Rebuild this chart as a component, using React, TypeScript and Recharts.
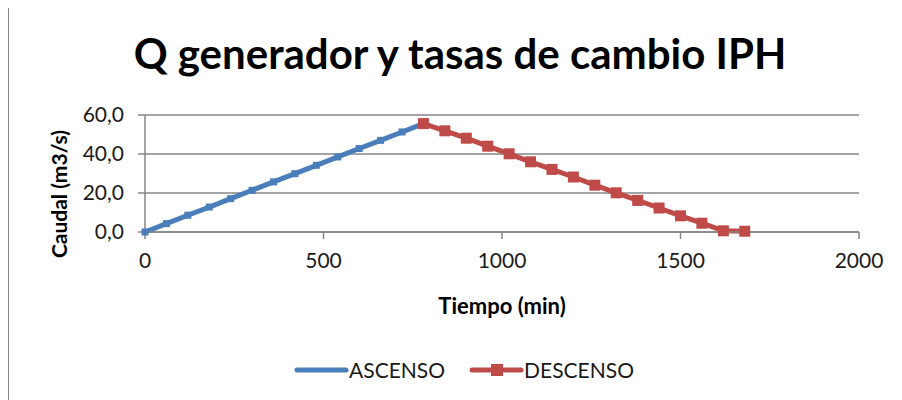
import { LineChart, Line, XAxis, YAxis, CartesianGrid } from "recharts"

// time (min) and flow (m3/s)
const ascTime = [0, 60, 120, 180, 240, 300, 360, 420, 480, 540, 600, 660, 720, 780]
const ascFlow = [0, 4.3, 8.6, 12.8, 17.1, 21.4, 25.7, 29.9, 34.2, 38.5, 42.8, 47.0, 51.3, 55.6]

const descTime = [780, 840, 900, 960, 1020, 1080, 1140, 1200, 1260, 1320, 1380, 1440, 1500, 1560, 1620, 1680]
const descFlow = [55.6, 51.9, 48.1, 44.0, 40.1, 36.0, 32.1, 28.2, 24.0, 20.1, 16.2, 12.3, 8.3, 4.5, 0.6, 0.4]

const xTicks = [0, 500, 1000, 1500, 2000]
const yTicks = [0, 20, 40, 60]

const BLUE = "#4A7EBB"
const RED = "#BE4B48"
const FONT = "Lato, 'Open Sans', sans-serif"

const ascData = ascTime.map((t, i) => ({ t, q: ascFlow[i] }))
const descData = descTime.map((t, i) => ({ t, q: descFlow[i] }))

const fmt = (v: number) => v.toFixed(1).replace(".", ",")

function SquareDot(size: number, color: string) {
  return (props: any) => {
    const { cx, cy, index } = props
    if (cx == null || cy == null) return <g key={index} />
    return (
      <rect
        key={index}
        x={cx - size / 2}
        y={cy - size / 2}
        width={size}
        height={size}
        fill={color}
        stroke="none"
      />
    )
  }
}

function LegendRow() {
  const item = (label: string, color: string, marker: boolean) => (
    <div style={{ display: "flex", alignItems: "center" }}>
      <svg width={55} height={14}>
        <line x1={3} y1={7} x2={52} y2={7} stroke={color} strokeWidth={5} strokeLinecap="round" />
        {marker && <rect x={22} y={1} width={12} height={12} fill={color} />}
      </svg>
      <span style={{ fontSize: 21, color: "#1a1a1a" }}>{label}</span>
    </div>
  )
  return (
    <div
      style={{
        position: "absolute",
        top: 349,
        left: 0,
        width: 894,
        display: "flex",
        justifyContent: "center",
        gap: 24,
        paddingLeft: 16,
        boxSizing: "border-box",
      }}
    >
      {item("ASCENSO", BLUE, false)}
      {item("DESCENSO", RED, true)}
    </div>
  )
}

export default function App() {
  return (
    <div
      style={{
        position: "relative",
        width: 894,
        height: 400,
        borderLeft: "1.5px solid #8a8a8a",
        boxSizing: "border-box",
        fontFamily: FONT,
        background: "#fff",
      }}
    >
      <div
        style={{
          position: "absolute",
          top: 20,
          left: 0,
          width: 894,
          textAlign: "center",
          fontSize: 42,
          fontWeight: 700,
          color: "#000",
          paddingLeft: 8,
          boxSizing: "border-box",
        }}
      >
        Q generador y tasas de cambio IPH
      </div>
      <LineChart
        width={892}
        height={400}
        margin={{ top: 107, right: 42, left: 6, bottom: 146 }}
        style={{ fontFamily: FONT }}
      >
        <CartesianGrid vertical={false} stroke="#868686" strokeWidth={1.5} />
        <XAxis
          type="number"
          dataKey="t"
          domain={[0, 2000]}
          ticks={xTicks}
          allowDuplicatedCategory={false}
          height={30}
          stroke="#868686"
          strokeWidth={1.5}
          tickSize={7}
          tickMargin={14}
          tick={{ fontSize: 21, fill: "#1a1a1a" }}
          label={{ value: "Tiempo (min)", position: "insideBottom", offset: -52, fontSize: 22, fontWeight: 700, fill: "#000" }}
        />
        <YAxis
          type="number"
          dataKey="q"
          domain={[0, 60]}
          ticks={yTicks}
          width={130}
          stroke="#868686"
          strokeWidth={1.5}
          tickSize={7}
          tickMargin={14}
          tickFormatter={fmt}
          tick={{ fontSize: 21, fill: "#1a1a1a" }}
          label={{
            content: (p: any) => {
              const vb = p.viewBox || { x: 6, y: 107, width: 130, height: 117 }
              const x = vb.x + 43
              const y = 186
              return (
                <text
                  x={x}
                  y={y}
                  transform={`rotate(-90 ${x} ${y})`}
                  textAnchor="middle"
                  dominantBaseline="central"
                  fontSize={21}
                  fontWeight={700}
                  fill="#000"
                >
                  Caudal (m3/s)
                </text>
              )
            },
          }}
        />
        <Line
          data={ascData}
          dataKey="q"
          name="ASCENSO"
          stroke={BLUE}
          strokeWidth={5}
          dot={SquareDot(7, BLUE)}
          isAnimationActive={false}
        />
        <Line
          data={descData}
          dataKey="q"
          name="DESCENSO"
          stroke={RED}
          strokeWidth={5}
          dot={SquareDot(11, RED)}
          isAnimationActive={false}
        />
      </LineChart>
      <LegendRow />
    </div>
  )
}
